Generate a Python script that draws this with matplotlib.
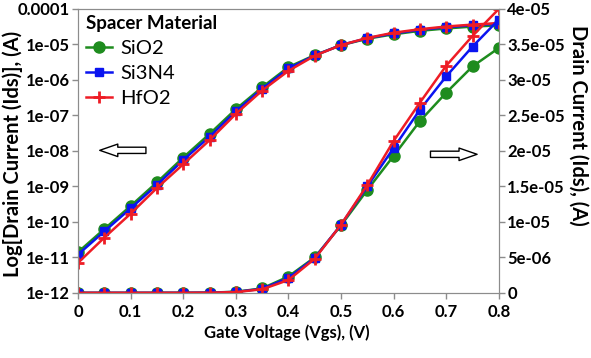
import numpy as np
import matplotlib
matplotlib.use("Agg")
import matplotlib.pyplot as plt
from matplotlib.ticker import FixedLocator, FuncFormatter, NullLocator

plt.rcParams["font.family"] = ["Lato", "DejaVu Sans"]

# Vgs sweep and drain current (A) per spacer material
vgs = [0.0, 0.05, 0.1, 0.15, 0.2, 0.25, 0.3, 0.35, 0.4,
       0.45, 0.5, 0.55, 0.6, 0.65, 0.7, 0.75, 0.8]
ids_sio2 = [1.4e-11, 6.3e-11, 2.8e-10, 1.3e-9, 6.5e-9, 3.0e-8, 1.5e-7, 6.2e-7, 2.3e-6,
            5.0e-6, 9.5e-6, 1.45e-5, 1.93e-5, 2.42e-5, 2.82e-5, 3.19e-5, 3.45e-5]
ids_si3n4 = [1.2e-11, 5.4e-11, 2.4e-10, 1.1e-9, 5.5e-9, 2.5e-8, 1.3e-7, 5.6e-7, 2.1e-6,
             4.9e-6, 9.6e-6, 1.5e-5, 2.04e-5, 2.58e-5, 3.05e-5, 3.47e-5, 3.85e-5]
ids_hfo2 = [7.0e-12, 3.6e-11, 1.7e-10, 9.0e-10, 4.2e-9, 2.0e-8, 1.1e-7, 5.0e-7, 1.8e-6,
            4.8e-6, 9.6e-6, 1.52e-5, 2.14e-5, 2.68e-5, 3.2e-5, 3.62e-5, 4.0e-5]

labels = ["SiO2", "Si3N4", "HfO2"]
series = [ids_sio2, ids_si3n4, ids_hfo2]
styles = [dict(color="#1e8c1e", marker="o", ms=8),
          dict(color="#0a14f0", marker="s", ms=6),
          dict(color="#ee1c25", marker="+", ms=9, mew=2)]

log_ticks = [1e-12, 1e-11, 1e-10, 1e-9, 1e-8, 1e-7, 1e-6, 1e-5, 1e-4]
lin_ticks = [0, 5e-6, 1e-5, 1.5e-5, 2e-5, 2.5e-5, 3e-5, 3.5e-5, 4e-5]
x_ticks = [0, 0.1, 0.2, 0.3, 0.4, 0.5, 0.6, 0.7, 0.8]

fig = plt.figure(figsize=(5.91, 3.58), dpi=100)
ax = fig.add_axes([0.132, 0.182, 0.712, 0.793])
ax2 = ax.twinx()

handles = []
for lab, y, st in zip(labels, series, styles):
    h, = ax.plot(vgs, y, lw=1.8, label=lab, **st)
    ax2.plot(vgs, y, lw=1.8, **st)
    handles.append(h)

ax.set_yscale("log")
ax.set_ylim(1e-12, 1e-4)
ax2.set_ylim(0, 4e-5)
ax.set_xlim(0, 0.8)

ax.yaxis.set_major_locator(FixedLocator(log_ticks))
ax.yaxis.set_minor_locator(NullLocator())
ax.yaxis.set_major_formatter(FuncFormatter(lambda v, p: "0.0001" if v >= 1e-4 else f"{v:.0e}"))
ax2.yaxis.set_major_locator(FixedLocator(lin_ticks))
ax2.yaxis.set_major_formatter(FuncFormatter(lambda v, p: f"{v:g}"))
ax.xaxis.set_major_locator(FixedLocator(x_ticks))
ax.xaxis.set_major_formatter(FuncFormatter(lambda v, p: f"{v:g}"))

for a in (ax, ax2):
    for s in a.spines.values():
        s.set_color("#8c8c8c")
    a.tick_params(colors="#8c8c8c", length=4, width=1, labelcolor="black",
                  labelsize=12, pad=2)
    for t in a.get_xticklabels() + a.get_yticklabels():
        t.set_fontweight("bold")
ax.tick_params(axis="x", pad=4)

fig.text(0.021, 0.57, "Log[Drain Current (Ids)], (A)", rotation=90, ha="center",
         va="center", fontsize=14.5, fontweight="bold")
fig.text(0.978, 0.65, "Drain Current (Ids), (A)", rotation=270, ha="center",
         va="center", fontsize=14.5, fontweight="bold")
fig.text(0.485, 0.072, "Gate Voltage (Vgs), (V)", ha="center", va="center",
         fontsize=12, fontweight="bold")

arrow = dict(arrowstyle="simple,head_length=13,head_width=9,tail_width=4.5",
             mutation_scale=1, fc="white", ec="black", lw=1)
ax2.annotate("", xy=(0.045, 0.502), xytext=(0.168, 0.502),
             xycoords="axes fraction", textcoords="axes fraction", arrowprops=arrow)
ax2.annotate("", xy=(0.955, 0.488), xytext=(0.831, 0.488),
             xycoords="axes fraction", textcoords="axes fraction", arrowprops=arrow)

leg = ax2.legend(handles=handles, loc="upper left", bbox_to_anchor=(-0.015, 1.03),
                 frameon=False, fontsize=14.5, title="Spacer Material",
                 title_fontproperties={"size": 13.5, "weight": "bold"},
                 handlelength=1.3, handletextpad=0.4, labelspacing=0.4,
                 alignment="left", borderaxespad=0.3)

fig.savefig("out.png", dpi=100)
